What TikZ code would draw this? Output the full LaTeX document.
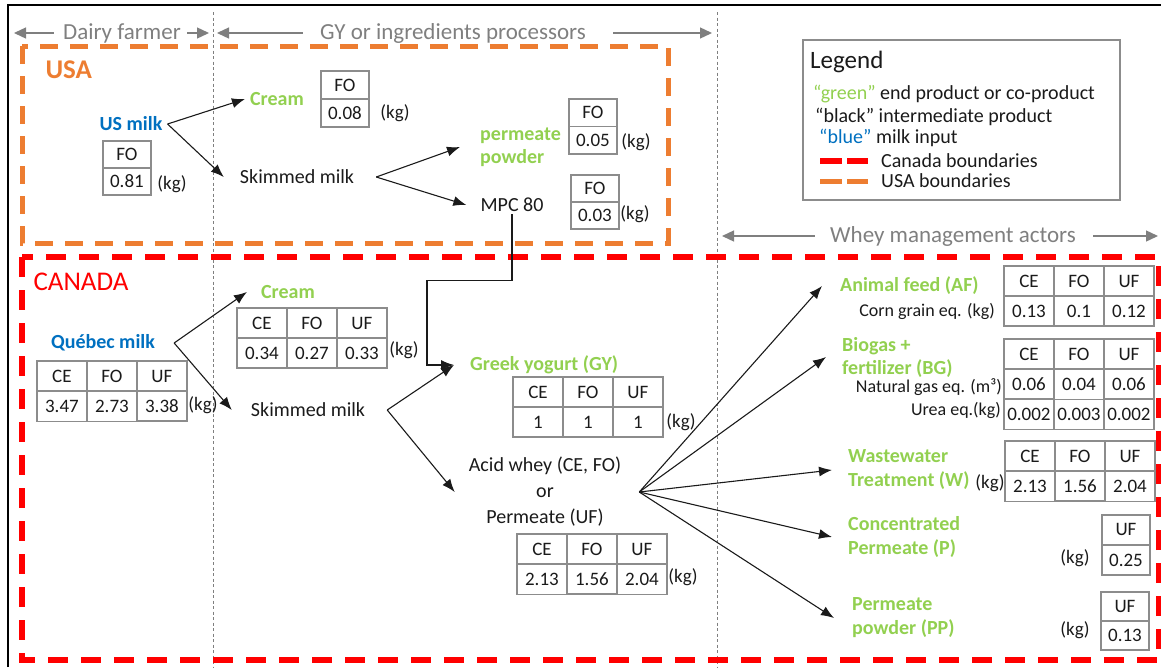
\documentclass[tikz,border=0pt]{standalone}
\usepackage{fontspec}
\setmainfont{Carlito}
\usetikzlibrary{positioning,matrix,arrows.meta}

\definecolor{prodgreen}{HTML}{92D050}
\definecolor{milkblue}{HTML}{0070C0}
\definecolor{usaorange}{HTML}{ED7D31}
\definecolor{canred}{HTML}{FF0000}
\definecolor{hdrgray}{HTML}{7F7F7F}
\definecolor{tabgray}{HTML}{8C8C8C}
\definecolor{txtblack}{HTML}{1A1A1A}
\newcommand{\fsz}[2]{\fontsize{#1}{#2}\selectfont}

\tikzstyle{prod} = [text=prodgreen, font=\bfseries\fsz{20}{24}, align=left, inner sep=2pt]
\tikzstyle{milk} = [text=milkblue, font=\bfseries\fsz{20}{24}, inner sep=2pt]
\tikzstyle{inter} = [text=txtblack, font=\fsz{20}{26}, align=center, inner sep=2pt]
\tikzstyle{unit} = [text=txtblack, font=\fsz{19}{22}, inner sep=0pt]
\tikzstyle{eqlabel} = [text=txtblack, font=\fsz{18}{21}, inner sep=1pt]
\tikzstyle{legtext} = [anchor=west, inner sep=0pt, text=txtblack, font=\fsz{20}{23}]
\tikzstyle{tab} = [matrix of nodes, anchor=north west, inner sep=0pt,
    column sep=-1.5pt, row sep=-1.5pt,
    nodes={draw=tabgray, line width=1.5pt, minimum width=50pt, minimum height=30pt,
    inner sep=0pt, text=txtblack, font=\fsz{19}{22}}]
\tikzstyle{line} = [draw, txtblack, line width=1.1pt, -{Latex[length=13pt,width=10pt]}]
\tikzstyle{header} = [text=hdrgray, font=\fsz{23}{27}]
\tikzstyle{hdrline} = [draw, hdrgray, line width=1.3pt, -{Triangle[length=12pt,width=11pt]}]
\tikzstyle{actor} = [draw=hdrgray, dash pattern=on 3pt off 2.5pt, line width=0.9pt]
\tikzstyle{usabox} = [draw=usaorange, line width=5pt, dash pattern=on 18pt off 12pt]
\tikzstyle{canbox} = [draw=canred, line width=6pt, dash pattern=on 20pt off 13pt]

\begin{document}
\begin{tikzpicture}[x=1pt, y=-1pt]
    \useasboundingbox (0,0) rectangle (1161,667);
    % Frame and actor columns
    \draw[line width=2.5pt] (8,667) |- (1161,5);
    \draw[actor] (213,12) -- (213,667);
    \draw[actor] (717,12) -- (717,667);

    % Boundaries
    \draw[usabox] (22,46) rectangle (668,243);
    \draw[canbox] (22,257) rectangle (1159,660);
    \node[anchor=west, text=usaorange, font=\bfseries\fsz{27}{30}] (usa) at (42,70) {USA};
    \node[anchor=west, text=canred, font=\fsz{27}{30}] (canada) at (30,282) {CANADA};

    % Actor headers
    \node[header] (dairy) at (122,33) {Dairy farmer};
    \coordinate (dairyL) at (14,33);
    \coordinate (dairyR) at (209,33);
    \path[hdrline] ([xshift=-6pt]dairy.west) -- (dairyL);
    \path[hdrline] ([xshift=3pt]dairy.east) -- (dairyR);
    \node[header] (gyproc) at (453,33) {GY or ingredients processors};
    \coordinate (gyprocL) at (217,33);
    \coordinate (gyprocR) at (712,33);
    \path[hdrline] ([xshift=-14pt]gyproc.west) -- (gyprocL);
    \path[hdrline] ([xshift=24pt]gyproc.east) -- (gyprocR);
    \node[header] (wheyhdr) at (953,236) {Whey management actors};
    \coordinate (wheyhdrL) at (722,236);
    \coordinate (wheyhdrR) at (1158,236);
    \path[hdrline] ([xshift=-12pt]wheyhdr.west) -- (wheyhdrL);
    \path[hdrline] ([xshift=14pt]wheyhdr.east) -- (wheyhdrR);

    % Legend
    \draw[tabgray, line width=2pt] (803,40) rectangle (1120,200);
    \node[legtext, font=\fsz{25}{28}] (legtitle) at (810,62) {Legend};
    \node[legtext] (leggreen) at (813,94) {\textcolor{prodgreen}{“green”} end product or co-product};
    \node[legtext] (legblack) at (815,117) {“black” intermediate product};
    \node[legtext] (legblue) at (819,138) {\textcolor{milkblue}{“blue”} milk input};
    \draw[canred, line width=6pt, dash pattern=on 22pt off 5pt] (820,161) -- (868,161);
    \node[legtext] (legcan) at (881,161) {Canada boundaries};
    \draw[usaorange, line width=5pt, dash pattern=on 22pt off 5pt] (820,181) -- (868,181);
    \node[legtext] (legusa) at (881,181) {USA boundaries};

    % USA chain
    \node[milk] (usmilk) at (131,124) {US milk};
    \matrix[tab, nodes={minimum width=48pt, minimum height=27pt}] (usmilktab) at (102,140) {FO \\ 0.81 \\};
    \node[unit] (usmilkkg) at (172,184) {(kg)};
    \node[prod] (uscream) at (277,99) {Cream};
    \matrix[tab, nodes={minimum width=48pt, minimum height=28pt}] (uscreamtab) at (320,70) {FO \\ 0.08 \\};
    \node[unit] (uscreamkg) at (395,113) {(kg)};
    \node[inter] (usskim) at (297,177) {Skimmed milk};
    \node[prod, anchor=west, font=\bfseries\fsz{20}{23}] (usperm) at (478,147) {permeate\\powder};
    \matrix[tab, nodes={minimum width=48pt, minimum height=27.5pt}] (uspermtab) at (568,98) {FO \\ 0.05 \\};
    \node[unit] (uspermkg) at (636,142) {(kg)};
    \node[inter] (mpc) at (512,205) {MPC 80};
    \matrix[tab, nodes={minimum width=48pt, minimum height=27pt}] (mpctab) at (570,174) {FO \\ 0.03 \\};
    \node[unit] (mpckg) at (635,214) {(kg)};

    % Canada chain
    \node[milk] (qcmilk) at (103,343) {Québec milk};
    \matrix[tab] (qcmilktab) at (36,360) {CE & FO & UF \\ 3.47 & 2.73 & 3.38 \\};
    \node[unit] (qcmilkkg) at (203,405) {(kg)};
    \node[prod] (cacream) at (288,292) {Cream};
    \matrix[tab] (cacreamtab) at (236,307) {CE & FO & UF \\ 0.34 & 0.27 & 0.33 \\};
    \node[unit] (cacreamkg) at (404,350) {(kg)};
    \node[inter] (caskim) at (308,410) {Skimmed milk};
    \node[prod, anchor=west] (gy) at (468,365) {Greek yogurt (GY)};
    \matrix[tab] (gytab) at (512,376) {CE & FO & UF \\ 1 & 1 & 1 \\};
    \node[unit] (gykg) at (681,422) {(kg)};
    \node[inter] (whey) at (545,492) {Acid whey (CE, FO)\\or\\Permeate (UF)};
    \matrix[tab] (wheytab) at (516,533) {CE & FO & UF \\ 2.13 & 1.56 & 2.04 \\};
    \node[unit] (wheykg) at (683,577) {(kg)};

    % Whey management
    \node[prod, anchor=west] (af) at (838,286) {Animal feed (AF)};
    \node[eqlabel, anchor=east] (afeq) at (996,311) {Corn grain eq. (kg)};
    \matrix[tab] (aftab) at (1003,265) {CE & FO & UF \\ 0.13 & 0.1 & 0.12 \\};
    \node[prod, anchor=west, font=\bfseries\fsz{20}{23}] (bg) at (840,357) {Biogas +\\fertilizer (BG)};
    \matrix[tab, nodes={minimum height=30pt}] (bgtab) at (1003,338)
        {CE & FO & UF \\ 0.06 & 0.04 & 0.06 \\ 0.002 & 0.003 & 0.002 \\};
    \node[eqlabel, anchor=east] (bggas) at (1003,387) {Natural gas eq. (m³)};
    \node[eqlabel, anchor=east] (bgurea) at (1002,410) {Urea eq.(kg)};
    \node[prod, anchor=west] (ww) at (846,470) {Wastewater\\Treatment (W)};
    \node[unit] (wwkg) at (990,483) {(kg)};
    \matrix[tab] (wwtab) at (1004,440) {CE & FO & UF \\ 2.13 & 1.56 & 2.04 \\};
    \node[prod, anchor=west] (conc) at (846,537) {Concentrated\\Permeate (P)};
    \matrix[tab, nodes={minimum width=48pt}] (conctab) at (1101,514) {UF \\ 0.25 \\};
    \node[unit] (conckg) at (1075,558) {(kg)};
    \node[prod, anchor=west] (pp) at (850,618) {Permeate\\powder (PP)};
    \matrix[tab, nodes={minimum width=48pt, minimum height=29pt}] (pptab) at (1100,591) {UF \\ 0.13 \\};
    \node[unit] (ppkg) at (1075,630) {(kg)};

    % Draw edges
    \path[line] ([xshift=3pt]usmilk.east) -- ([xshift=-3pt]uscream.west);
    \path[line] ([xshift=3pt]usmilk.east) -- ([xshift=-14pt]usskim.west);
    \path[line] ([xshift=20pt]usskim.east) -- ([xshift=-18pt]usperm.west);
    \path[line] ([xshift=20pt]usskim.east) -- ([xshift=-12pt]mpc.west);
    \path[line] (mpc.south) -- ++(0,66) -| ([xshift=-41pt]gy.west) -- ([xshift=-14pt]gy.west);
    \path[line] ([xshift=17pt]qcmilk.east) -- ([xshift=-12pt]cacream.west);
    \path[line] ([xshift=17pt]qcmilk.east) -- ([xshift=-17pt]caskim.west);
    \path[line] ([xshift=20pt]caskim.east) -- ([xshift=-14pt]gy.west);
    \path[line] ([xshift=20pt]caskim.east) -- ([xshift=-12pt]whey.west);
    \coordinate (wheyfork) at ([xshift=16pt]whey.east);
    \foreach \t/\s in {af/-16, bg/-14, ww/-14, conc/-14, pp/-16}
        \path[line] (wheyfork) -- ([xshift=\s pt]\t.west);
\end{tikzpicture}
\end{document}
